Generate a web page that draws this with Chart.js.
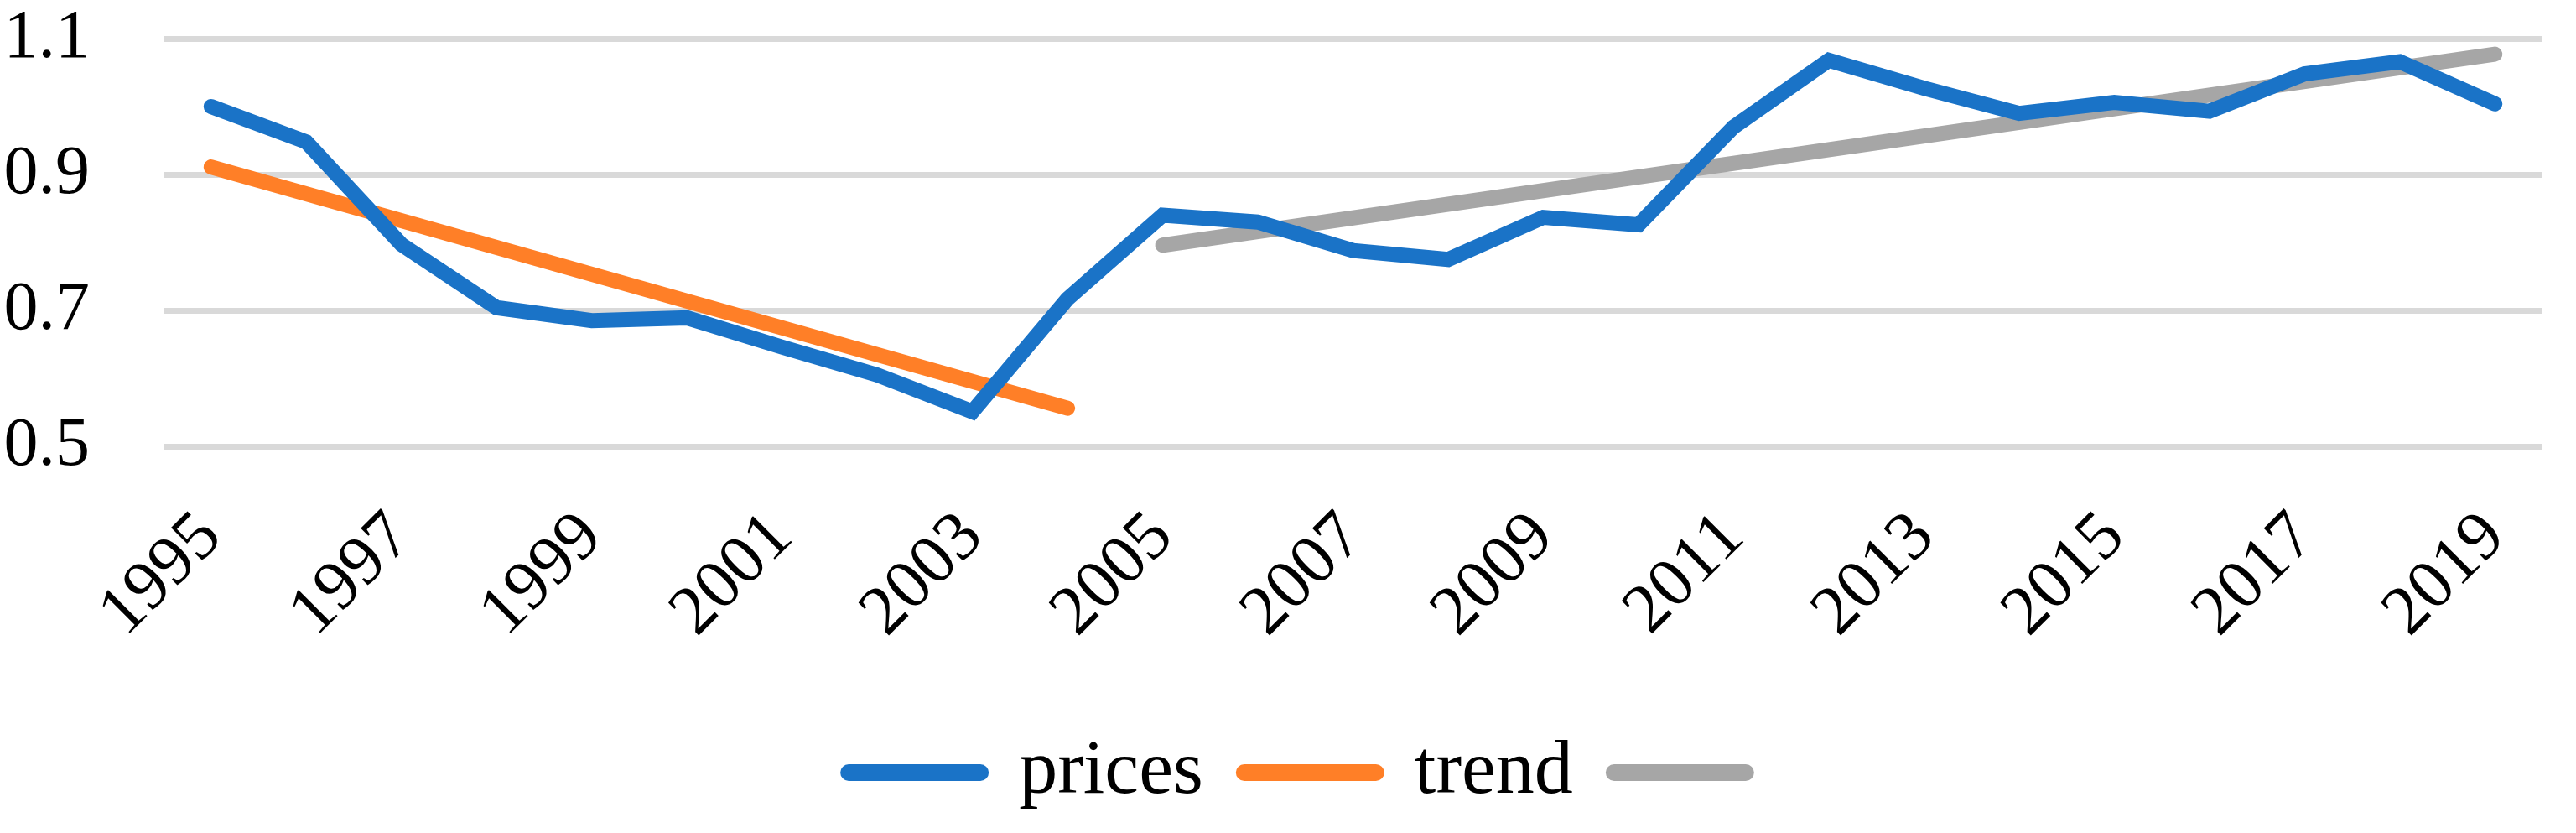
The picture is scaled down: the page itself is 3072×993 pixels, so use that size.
<!DOCTYPE html>
<html>
<head>
<meta charset="utf-8">
<script src="https://cdn.jsdelivr.net/npm/chart.js@4/dist/chart.umd.min.js"></script>
<style>
  html, body { margin: 0; padding: 0; background: #ffffff; }
  #wrap { width: 3072px; height: 993px; }
</style>
</head>
<body>
<div id="wrap"><canvas id="c" width="3072" height="993"></canvas></div>
<script>
const years = ['1995','1996','1997','1998','1999','2000','2001','2002','2003','2004','2005','2006','2007','2008','2009','2010','2011','2012','2013','2014','2015','2016','2017','2018','2019'];
const prices = [1.000, 0.948, 0.797, 0.704, 0.685, 0.689, 0.646, 0.605, 0.551, 0.717, 0.840, 0.830, 0.788, 0.775, 0.837, 0.826, 0.970, 1.068, 1.027, 0.990, 1.006, 0.993, 1.048, 1.066, 1.004];
// trend lines: only their end points are given, the library joins them
const trend1 = [0.911, null, null, null, null, null, null, null, null, 0.556, null, null, null, null, null, null, null, null, null, null, null, null, null, null, null];
const trend2 = [null, null, null, null, null, null, null, null, null, null, 0.796, null, null, null, null, null, null, null, null, null, null, null, null, null, 1.077];
const seriesNames = ['prices', 'trend', ''];
const seriesColors = ['#1A73C7', '#FF7F27', '#A6A6A6'];
const yTicks = [0.5, 0.7, 0.9, 1.1];

const FONT = "'Liberation Serif', 'Times New Roman', serif";
const CLEAR = 'rgba(0,0,0,0)';

const ds = [prices, trend1, trend2].map((d, i) => ({
  label: seriesNames[i],
  data: d,
  borderColor: seriesColors[i],
  backgroundColor: seriesColors[i],
  borderWidth: 18,
  borderCapStyle: 'round',
  borderJoinStyle: 'miter',
  pointRadius: 0,
  pointHoverRadius: 0,
  spanGaps: true,
  tension: 0
}));

// nudge the centred legend row to where the original sits
const legendShift = {
  id: 'legendShift',
  afterLayout(chart) {
    if (chart.legend) { chart.legend.left += 54; chart.legend.right += 54; }
  }
};

new Chart(document.getElementById('c'), {
  type: 'line',
  data: { labels: years, datasets: ds },
  plugins: [legendShift],
  options: {
    responsive: false,
    animation: false,
    devicePixelRatio: 1,
    layout: { padding: { top: 46, right: 40, bottom: 16, left: 0 } },
    plugins: {
      tooltip: { enabled: false },
      legend: {
        position: 'bottom',
        align: 'center',
        labels: {
          usePointStyle: true,
          pointStyleWidth: 157,
          padding: 49,
          color: '#000000',
          font: { family: FONT, size: 92 },
          generateLabels: (chart) => chart.data.datasets.map((d, i) => ({
            text: d.label,
            fillStyle: d.borderColor,
            strokeStyle: d.borderColor,
            lineWidth: 20,
            lineCap: 'round',
            pointStyle: 'line',
            hidden: false,
            datasetIndex: i,
            fontColor: '#000000'
          }))
        }
      }
    },
    scales: {
      x: {
        type: 'category',
        offset: true,
        grid: { display: true, drawOnChartArea: false, drawTicks: true, tickLength: 60, color: CLEAR, tickColor: CLEAR },
        border: { display: false },
        ticks: {
          autoSkip: false,
          minRotation: 45,
          maxRotation: 45,
          padding: 0,
          color: '#000000',
          font: { family: FONT, size: 83 },
          callback: function(v, i) { return i % 2 === 0 ? years[i] : ''; }
        },
        afterFit: (s) => { s.height = 294; }
      },
      y: {
        min: 0.5,
        max: 1.1,
        grid: { color: '#D9D9D9', lineWidth: 7, drawTicks: true, tickLength: 88, tickColor: CLEAR },
        border: { display: false },
        afterBuildTicks: (s) => { s.ticks = yTicks.map(v => ({ value: v })); },
        ticks: {
          padding: 0,
          color: '#000000',
          font: { family: FONT, size: 82, lineHeight: 1 },
          callback: (v) => Number(v).toFixed(1)
        },
        afterFit: (s) => { s.width = 195; }
      }
    }
  }
});
</script>
</body>
</html>
